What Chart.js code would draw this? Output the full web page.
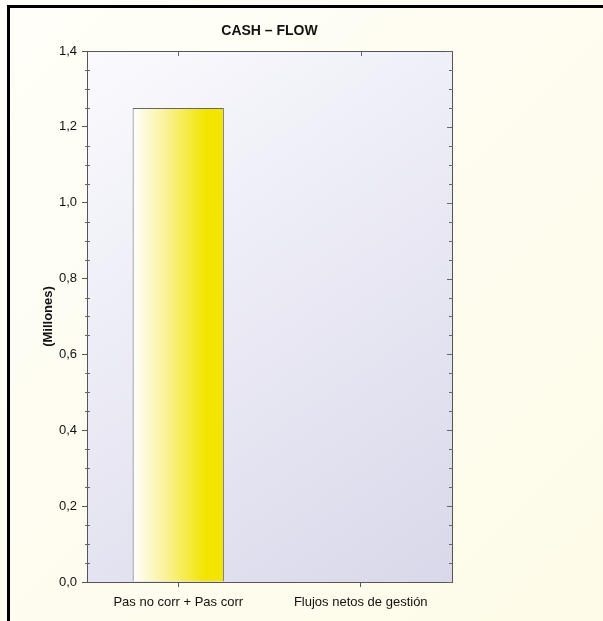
<!DOCTYPE html>
<html>
<head>
<meta charset="utf-8">
<script src="https://cdn.jsdelivr.net/npm/chart.js@4/dist/chart.umd.min.js"></script>
<style>
  html, body { margin: 0; padding: 0; background: #ffffff; }
  #wrap { width: 603px; height: 621px; }
</style>
</head>
<body>
<div id="wrap"><canvas id="chart" width="603" height="621"></canvas></div>
<script>
// datos del gráfico
var categories = ['Pas no corr + Pas corr', 'Flujos netos de gestión'];
var values = [1.25, 0];
var yTicks = [0, 0.2, 0.4, 0.6, 0.8, 1.0, 1.2, 1.4];
var chartTitle = 'CASH – FLOW';

var fmt = function (v) { return v.toFixed(1).replace('.', ','); };
var FONT = 'Arial, "Liberation Sans", sans-serif';

// fondo exterior, marco, área de trazado y título
var backgroundPlugin = {
    id: 'fondos',
    beforeDraw: function (chart) {
        var ctx = chart.ctx;
        var w = chart.width, h = chart.height;
        var g = ctx.createLinearGradient(0, 0, w, h);
        g.addColorStop(0, '#fffef8');
        g.addColorStop(1, '#fefbe8');
        ctx.save();
        ctx.fillStyle = g;
        ctx.fillRect(0, 0, w, h);

        var a = chart.chartArea;
        var g2 = ctx.createLinearGradient(a.left, a.top, a.right, a.bottom);
        g2.addColorStop(0, '#fafafe');
        g2.addColorStop(1, '#d9d8ea');
        ctx.fillStyle = g2;
        ctx.fillRect(a.left, a.top, a.right - a.left, a.bottom - a.top);
        ctx.restore();
    },
    afterDraw: function (chart) {
        var ctx = chart.ctx;
        var a = chart.chartArea;
        var y = chart.scales.y, x = chart.scales.x;
        ctx.save();
        // marco negro
        ctx.strokeStyle = '#000';
        ctx.lineWidth = 3;
        ctx.beginPath();
        ctx.moveTo(8.5, chart.height + 2);
        ctx.lineTo(8.5, 6.5);
        ctx.lineTo(chart.width + 2, 6.5);
        ctx.stroke();

        // título centrado sobre el área
        ctx.fillStyle = '#111';
        ctx.font = 'bold 14px ' + FONT;
        ctx.textAlign = 'center';
        ctx.textBaseline = 'middle';
        ctx.fillText(chartTitle, (a.left + a.right) / 2, 31);

        // borde del área
        ctx.strokeStyle = '#555';
        ctx.lineWidth = 1;
        ctx.strokeRect(a.left + 0.5, a.top + 0.5, a.right - a.left, a.bottom - a.top);

        // marcas menores y marcas del lado derecho / superior
        ctx.strokeStyle = '#666';
        for (var v = 0; v <= 1.4001; v += 0.05) {
            var py = Math.round(y.getPixelForValue(v)) + 0.5;
            var major = Math.abs(v / 0.2 - Math.round(v / 0.2)) < 0.01;
            ctx.beginPath();
            if (major) {
                ctx.moveTo(a.right - 5, py); ctx.lineTo(a.right, py);
            } else {
                ctx.moveTo(a.left - 2, py); ctx.lineTo(a.left + 3, py);
                ctx.moveTo(a.right - 3, py); ctx.lineTo(a.right + 1, py);
            }
            ctx.stroke();
        }
        categories.forEach(function (c, i) {
            var px = Math.round(x.getPixelForValue(i)) + 0.5;
            ctx.beginPath();
            ctx.moveTo(px, a.top); ctx.lineTo(px, a.top + 5);
            ctx.stroke();
        });
        ctx.restore();
    }
};

var ctx = document.getElementById('chart').getContext('2d');
var chart = new Chart(ctx, {
    type: 'bar',
    data: {
        labels: categories,
        datasets: [{
            data: values,
            backgroundColor: function (c) {
                var ch = c.chart;
                if (!ch.chartArea || !ch.scales.x) return '#f2e600';
                var sx = ch.scales.x;
                var cx = sx.getPixelForValue(c.dataIndex);
                var half = (sx.width / categories.length) * 0.5 / 2;
                var g = ch.ctx.createLinearGradient(cx - half, 0, cx + half, 0);
                g.addColorStop(0, '#ffffff');
                g.addColorStop(0.35, '#faf29c');
                g.addColorStop(0.8, '#f3e400');
                g.addColorStop(1, '#f1e600');
                return g;
            },
            borderColor: '#666',
            borderWidth: 1,
            borderSkipped: 'bottom',
            categoryPercentage: 1.0,
            barPercentage: 0.5
        }]
    },
    options: {
        responsive: false,
        animation: false,
        layout: { padding: { left: 41, right: 151, top: 51, bottom: 0 } },
        plugins: {
            legend: { display: false },
            tooltip: { enabled: false },
            title: { display: false }
        },
        scales: {
            x: {
                grid: { drawOnChartArea: false, offset: false, tickLength: 5, color: '#555' },
                border: { color: '#555' },
                ticks: {
                    color: '#111',
                    padding: 8,
                    font: { family: FONT, size: 13 }
                },
                afterFit: function (s) { s.height = 39; }
            },
            y: {
                min: 0,
                max: 1.4,
                afterBuildTicks: function (s) {
                    s.ticks = yTicks.map(function (v) { return { value: v }; });
                },
                grid: { drawOnChartArea: false, tickLength: 5, color: '#555' },
                border: { color: '#555' },
                title: {
                    display: true,
                    text: '(Millones)',
                    color: '#111',
                    font: { family: FONT, size: 13, weight: 'bold' },
                    padding: { top: 0, bottom: 0 }
                },
                ticks: {
                    color: '#111',
                    padding: 5,
                    font: { family: FONT, size: 13 },
                    callback: function (v) { return fmt(v); }
                },
                afterFit: function (s) { s.width = 46; }
            }
        }
    },
    plugins: [backgroundPlugin]
});
</script>
</body>
</html>
